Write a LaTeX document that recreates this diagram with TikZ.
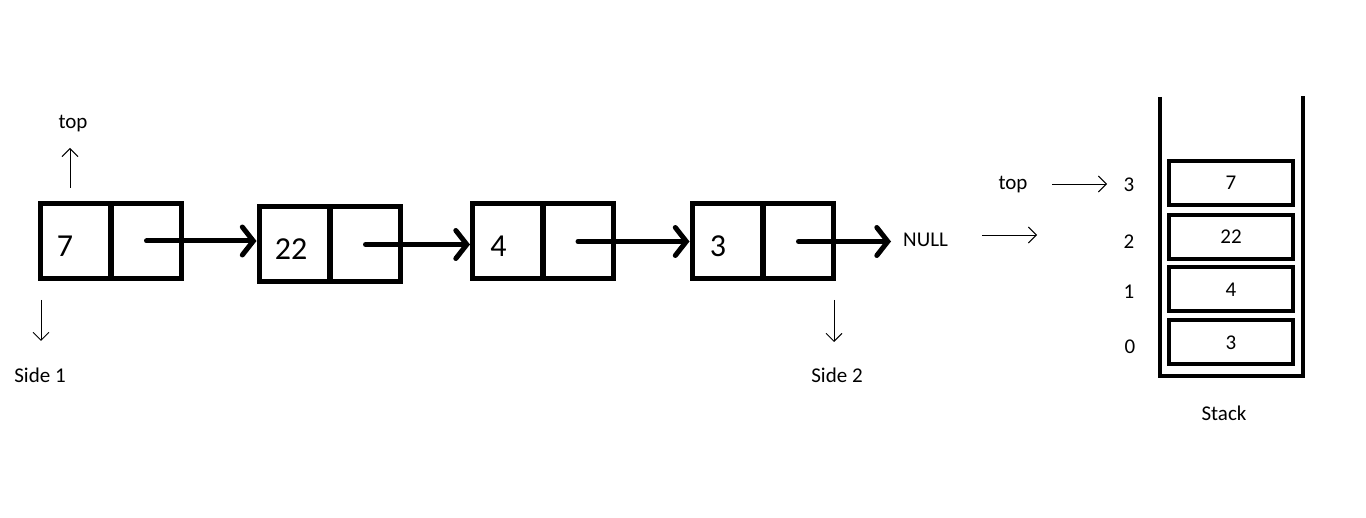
\documentclass[tikz,border=0pt]{standalone}
\usepackage{fontspec}
\setmainfont{Carlito}
\usetikzlibrary{arrows.meta}
\tikzset{
  cell/.style={draw, line width=5pt, rectangle, minimum width=70pt, minimum height=75pt, inner sep=0pt, font=\fontsize{32}{32}\selectfont},
  scell/.style={draw, line width=4pt, rectangle, minimum width=124pt, minimum height=44pt, inner sep=0pt, font=\fontsize{21}{21}\selectfont},
  lbl/.style={inner sep=0pt, font=\fontsize{21}{21}\selectfont},
  thick arrow/.style={line width=5pt, line cap=round, -{Straight Barb[length=11pt,width=28pt,line cap=round]}},
  thin arrow/.style={line width=0.9pt, -{Straight Barb[length=8pt,width=16pt]}}
}
\newcommand{\dn}[1]{\raisebox{-5pt}[\height][\depth]{#1}}
\begin{document}
\begin{tikzpicture}[x=1pt,y=-1pt]
\useasboundingbox (0,0) rectangle (1366,518);
% linked list nodes
\node[cell] (n1d) at (75,241) {\hspace*{-20pt}\dn{7}};
\node[cell] (n1p) at (146.5,241) {};
\node[cell] (n2d) at (294,244.5) {\hspace*{-6pt}\dn{22}};
\node[cell] (n2p) at (365.5,244.5) {};
\node[cell] (n3d) at (507.5,241.5) {\hspace*{-18pt}\dn{4}};
\node[cell] (n3p) at (578,241.5) {};
\node[cell] (n4d) at (727,241.5) {\hspace*{-18pt}\dn{3}};
\node[cell] (n4p) at (798.5,241.5) {};
\node[lbl, anchor=west] (null) at (903,240) {NULL};
\draw[thick arrow] (n1p.center) -- (n2d.west |- n1p.center);
\draw[thick arrow] (n2p.center) -- (n3d.west |- n2p.center);
\draw[thick arrow] (n3p.center) -- (n4d.west |- n3p.center);
\draw[thick arrow] (n4p.center) -- ([xshift=-12pt]null.west |- n4p.center);
% side labels
\node[lbl] (top1) at (73,124) {top};
\coordinate (top1s) at (70,188);
\coordinate (top1e) at (70,148);
\draw[thin arrow] (top1s) -- (top1e);
\node[lbl] (side1) at (40,375) {Side 1};
\coordinate (side1s) at (41,300);
\coordinate (side1e) at (41,341);
\draw[thin arrow] (side1s) -- (side1e);
\node[lbl] (side2) at (837,375) {Side 2};
\coordinate (side2s) at (834,300);
\coordinate (side2e) at (834,342);
\draw[thin arrow] (side2s) -- (side2e);
% arrow between list and stack
\coordinate (ma) at (982,235);
\coordinate (mb) at (1037,235);
\draw[thin arrow] (ma) -- (mb);
% stack
\draw[line width=4pt] (1160,97) -- (1160,376) -- (1303,376) -- (1303,96);
\node[scell] (s3) at (1231,183) {7};
\node[scell] (s2) at (1231,237) {22};
\node[scell] (s1) at (1231,289.5) {4};
\node[scell] (s0) at (1231,342.5) {3};
\node[lbl] (i3) at (1129,185) {3};
\node[lbl] (i2) at (1129,242) {2};
\node[lbl] (i1) at (1129,292) {1};
\node[lbl] (i0) at (1130,347) {0};
\node[lbl] (topS) at (1013,185) {top};
\coordinate (topSa) at (1052,184);
\coordinate (topSb) at (1107,184);
\draw[thin arrow] (topSa) -- (topSb);
\node[lbl] (stk) at (1224,413) {Stack};
\end{tikzpicture}
\end{document}
